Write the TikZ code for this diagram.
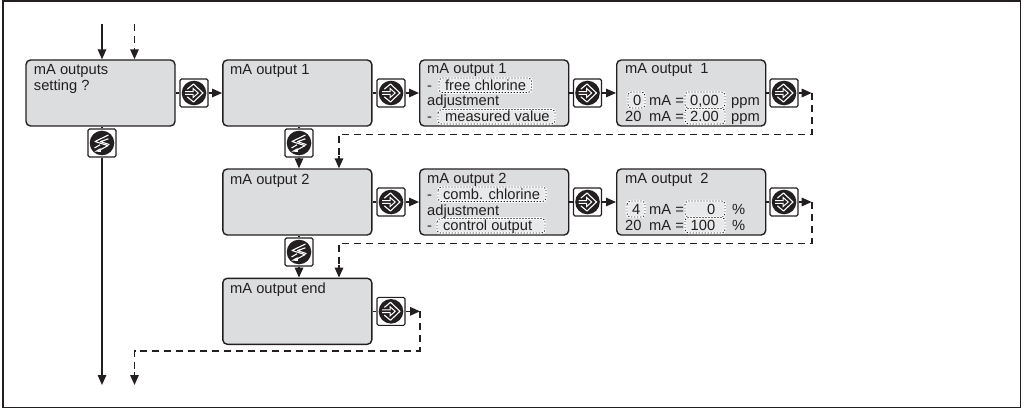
\documentclass[tikz,border=0pt]{standalone}
\usepackage{fontspec}
\setmainfont{Liberation Sans}
\usetikzlibrary{arrows.meta}
\definecolor{ink}{HTML}{231F20}
\definecolor{panel}{HTML}{DCDDDF}
\definecolor{hl}{HTML}{E8E9EA}
\newcommand{\rowl}[3]{\makebox[24pt][l]{#1}\makebox[41pt][l]{mA =}\makebox[41pt][l]{#2}#3}
\tikzset{
  x=1pt,y=-1pt,
  panelbox/.style={draw=ink,fill=panel,line width=1.4pt,rounded corners=4.5pt,minimum width=149pt,minimum height=66pt,inner sep=0pt},
  btn/.style={draw=ink,fill=white,line width=1.1pt,rounded corners=1.5pt,minimum width=28pt,minimum height=28pt,inner sep=0pt},
  txt/.style={anchor=base west,inner sep=0pt,text=ink,font=\fontsize{14.7}{16}\selectfont},
  hlbox/.style={fill=hl,draw=white,line width=2.4pt,rounded corners=3.5pt,
     postaction={draw=ink,line width=0.9pt,dash pattern=on 1.2pt off 1.8pt}},
  flow/.style={draw=ink,line width=1.5pt},
  dflow/.style={draw=ink,line width=1.6pt,dash pattern=on 7pt off 5pt},
  tip/.style={-{Triangle[length=10pt,width=8.5pt]}},
  enterpic/.pic={
    \fill[ink] (0,0) circle (12.3pt);
    \draw[white,line width=1.1pt,line join=round,line cap=round] (-6.5,-4) -- (-0.5,-9) -- (9,0) -- (-0.5,9) -- (-6.5,4);
    \draw[white,line width=1pt,line join=miter] (-9,-1.4) -- (-1,-1.4) -- (-1,-4.6) -- (4.2,0) -- (-1,4.6) -- (-1,1.4) -- (-9,1.4);
  },
  selectpic/.pic={
    \fill[ink] (0,0) circle (12.3pt);
    \draw[white,line width=1.1pt,line join=round] (6.5,-8) -- (-7,-1.5) -- (6,2.6) -- (-3,7.5);
    \draw[white,line width=1.1pt,line join=round] (6.5,-4.2) -- (-1.6,-1.4) -- (7.5,1.6);
    \draw[white,line width=1.1pt,line join=round] (-7.5,5) -- (-2,1.8);
    \fill[white] (-7.5,8.5) -- (-1.5,5.2) -- (-1,9) -- cycle;
  },
}
\begin{document}
\begin{tikzpicture}
\useasboundingbox (0,0) rectangle (1025,409);
\draw[ink,line width=1.5pt] (3,1) rectangle (1020.5,407.5);

% panels
\node[panelbox] (a)  at (100.5,93) {};
\node[panelbox] (b1) at (297.3,93) {};
\node[panelbox] (c1) at (494.2,93) {};
\node[panelbox] (d1) at (691.2,93) {};
\node[panelbox] (b2) at (297.3,202) {};
\node[panelbox] (c2) at (494.2,202) {};
\node[panelbox] (d2) at (691.2,202) {};
\node[panelbox] (b3) at (297.3,311.3) {};

% buttons
\node[btn] (ea)  at (194,93) {};
\node[btn] (e1)  at (391,93) {};
\node[btn] (e1c) at (587.5,93) {};
\node[btn] (e1d) at (784,93) {};
\node[btn] (e2)  at (391,202) {};
\node[btn] (e2c) at (587.5,202) {};
\node[btn] (e2d) at (784,202) {};
\node[btn] (e3)  at (391,311.3) {};
\node[btn] (sa)  at (102,143) {};
\node[btn] (s1)  at (299,143) {};
\node[btn] (s2)  at (299,252) {};
\foreach \n in {ea,e1,e1c,e1d,e2,e2c,e2d,e3} \pic at (\n) {enterpic};
\foreach \n in {sa,s1,s2} \pic at (\n) {selectpic};

% free ends and corners
\coordinate (insolid)  at (102,24);
\coordinate (indash)   at (134.5,24);
\coordinate (outsolid) at (102,385);
\coordinate (outdash)  at (134.5,385);
\coordinate (r1) at (811.7,93);
\coordinate (r2) at (811.7,202);
\coordinate (r3) at (420,311.3);
\coordinate (l1) at (339,134.5);
\coordinate (l2) at (339,243.5);
\coordinate (l3) at (134.5,350.7);

% connectors
\draw[flow,tip] (insolid) -- (insolid |- a.north);
\draw[dflow] (indash) -- (134.5,50);
\draw[flow,tip] (134.5,50) -- (indash |- a.north);
\draw[flow] (a.east) -- (ea.west);
\draw[flow,tip] (ea.east) -- (b1.west);
\draw[flow] (b1.east) -- (e1.west);
\draw[flow,tip] (e1.east) -- (c1.west);
\draw[flow] (c1.east) -- (e1c.west);
\draw[flow,tip] (e1c.east) -- (d1.west);
\draw[flow] (d1.east) -- (e1d.west);
\draw[flow,tip] (e1d.east) -- (r1);
\draw[flow] (b2.east) -- (e2.west);
\draw[flow,tip] (e2.east) -- (c2.west);
\draw[flow] (c2.east) -- (e2c.west);
\draw[flow,tip] (e2c.east) -- (d2.west);
\draw[flow] (d2.east) -- (e2d.west);
\draw[flow,tip] (e2d.east) -- (r2);
\draw[flow] (b3.east) -- (e3.west);
\draw[flow,tip] (e3.east) -- (r3);
\draw[flow] (sa.north) -- (sa.north |- a.south);
\draw[flow,tip] (sa.south) -- (outsolid);
\draw[flow] (s1.north) -- (s1.north |- b1.south);
\draw[flow,tip] (s1.south) -- (s1.south |- b2.north);
\draw[flow] (s2.north) -- (s2.north |- b2.south);
\draw[flow,tip] (s2.south) -- (s2.south |- b3.north);
\draw[dflow] (r1) -- (r1 |- l1) -- (l1) -- (339,156);
\draw[flow,tip] (339,156) -- (l1 |- b2.north);
\draw[dflow] (r2) -- (r2 |- l2) -- (l2) -- (339,265);
\draw[flow,tip] (339,265) -- (l2 |- b3.north);
\draw[dflow] (r3) -- (r3 |- l3) -- (l3) -- (134.5,372);
\draw[flow,tip] (134.5,372) -- (outdash);

% highlights
\draw[hlbox] (439,78) rectangle (531.5,92.5);
\draw[hlbox] (438,109.5) rectangle (555,124);
\draw[hlbox] (628,92) rectangle (645,108);
\draw[hlbox] (685,92) rectangle (725,108);
\draw[hlbox] (685,108.5) rectangle (725,124);
\draw[hlbox] (438,187) rectangle (546,201.5);
\draw[hlbox] (437,218.5) rectangle (545,233);
\draw[hlbox] (627,201) rectangle (645,217);
\draw[hlbox] (685,201) rectangle (725,217);
\draw[hlbox] (685,217.5) rectangle (725,233);

% texts
\node[txt] (ta1) at (33.7,75) {mA outputs};
\node[txt] (ta2) at (33.7,91) {setting ?};
\node[txt] (tb1) at (230,75) {mA output 1};
\node[txt] (tc1) at (427,74) {mA output 1};
\node[txt] (tc2) at (427,90.5) {-\hspace{13pt}free chlorine};
\node[txt] (tc3) at (427,106) {adjustment};
\node[txt] (tc4) at (427,121.7) {-\hspace{13pt}measured value};
\node[txt] (td1) at (625,74) {mA output\ \ 1};
\node[txt] (td2) at (625,105.5) {\rowl{\hspace*{8pt}0}{0,00}{ppm}};
\node[txt] (td3) at (625,121.7) {\rowl{20}{2.00}{ppm}};
\node[txt] (tb2) at (230,184) {mA output 2};
\node[txt] (tc5) at (427,183) {mA output 2};
\node[txt] (tc6) at (427,199.5) {-\hspace{11pt}comb. chlorine};
\node[txt] (tc7) at (427,215) {adjustment};
\node[txt] (tc8) at (427,230.7) {-\hspace{11pt}control output};
\node[txt] (td4) at (625,183) {mA output\ \ 2};
\node[txt] (td5) at (625,214.5) {\rowl{\hspace*{7pt}4}{\makebox[25pt][r]{0}}{\hspace*{1pt}\%}};
\node[txt] (td6) at (625,230.7) {\rowl{20}{\makebox[25pt][r]{100}}{\hspace*{1pt}\%}};
\node[txt] (tb3) at (230,293) {mA output end};
\end{tikzpicture}
\end{document}
